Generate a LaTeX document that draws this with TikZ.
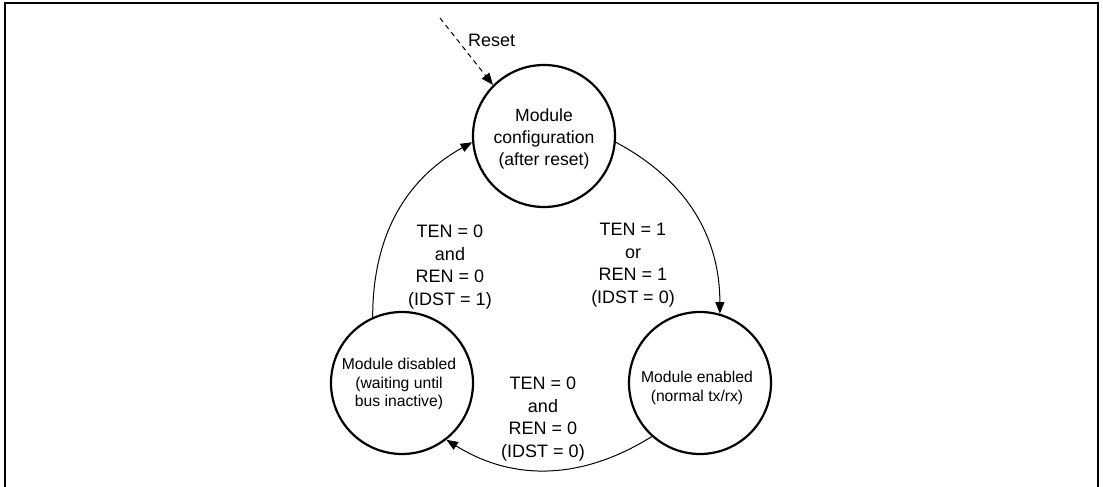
\documentclass[tikz,border=0pt]{standalone}
\usepackage{fontspec}
\setmainfont{Liberation Sans}
\usetikzlibrary{arrows.meta}
\begin{document}
\begin{tikzpicture}[x=1pt,y=1pt,
  statecircle/.style={circle,draw,line width=2.2pt,minimum size=142pt,inner sep=0pt},
  bigtext/.style={align=center,font=\fontsize{17.6}{21.7}\selectfont,inner sep=0pt},
  smalltext/.style={align=center,font=\fontsize{15.7}{18.6}\selectfont,inner sep=0pt},
  condtext/.style={align=center,font=\fontsize{18}{22.6}\selectfont,inner sep=0pt},
  trans/.style={line width=1pt,-{Triangle[length=11.5pt,width=9pt]}},
  frame/.style={line width=2.2pt}
]
\useasboundingbox (0,0) rectangle (1103,487);
% frame (open at the bottom)
\draw[frame] (5,0) -- (5,484) -- (1098,484) -- (1098,0);

% states
\node[statecircle] (cfg) at (544,351) {};
\node[statecircle] (dis) at (402,104) {};
\node[statecircle] (ena) at (700,104) {};

\node[bigtext] (cfgtxt) at (544,348) {Module\\configuration\\(after reset)};
\node[smalltext] (distxt) at (399,103) {Module disabled\\(waiting until\\bus inactive)};
\node[smalltext] (enatxt) at (697,99) {Module enabled\\(normal tx/rx)};

% reset
\coordinate (rst) at (440,469);
\draw[line width=1pt,dash pattern=on 5pt off 4pt,-{Triangle[length=12pt,width=9.5pt]}] (rst) -- (cfg.135);
\node[condtext,anchor=base west] (rsttxt) at (468,440) {Reset};

% transitions
\draw[trans] (cfg.-5) to[out=-28,in=90] (ena.74);
\draw[trans] (ena.228) to[out=212,in=-32] (dis.-52);
\draw[trans] (dis.114) to[out=90,in=209] (cfg.185);

% conditions
\node[condtext] (c1) at (633,222) {TEN = 1\\or\\REN = 1\\(IDST = 0)};
\node[condtext] (c2) at (543,68) {TEN = 0\\and\\REN = 0\\(IDST = 0)};
\node[condtext] (c3) at (450,220) {TEN = 0\\and\\REN = 0\\(IDST = 1)};
\end{tikzpicture}
\end{document}
